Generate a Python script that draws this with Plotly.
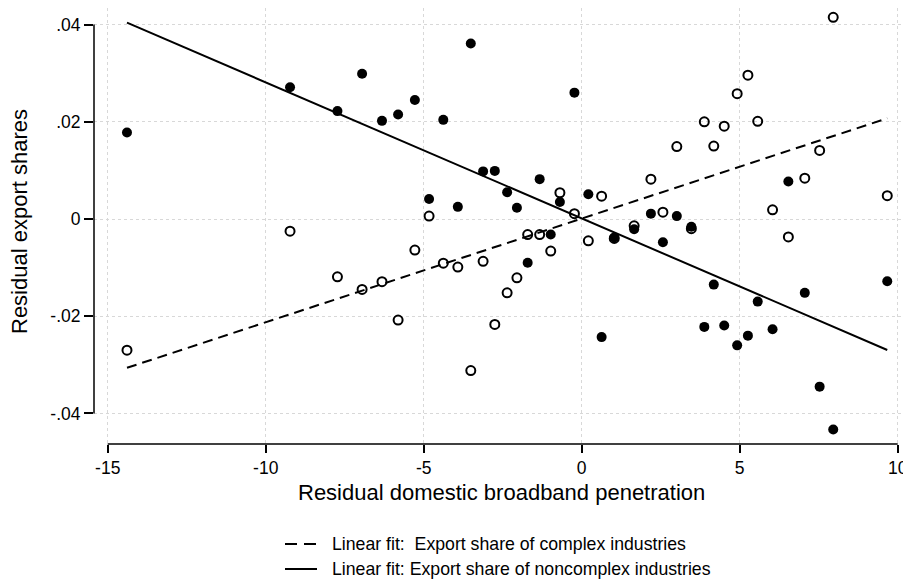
import numpy as np
import plotly.graph_objects as go

# Residual domestic broadband penetration (one value per country)
broadband = [-14.39, -9.23, -7.73, -6.95, -6.32, -5.81, -5.28, -4.83, -4.38, -3.92,
             -3.51, -3.12, -2.75, -2.36, -2.05, -1.71, -1.33, -0.98, -0.69, -0.23,
             0.21, 0.63, 1.03, 1.66, 2.19, 2.57, 3.01, 3.47, 3.88, 4.18,
             4.51, 4.92, 5.26, 5.57, 6.04, 6.54, 7.06, 7.53, 7.96, 9.67]

# Residual export share of noncomplex industries (filled circles)
noncomplex = [0.0178, 0.0271, 0.0222, 0.0299, 0.0202, 0.0215, 0.0245, 0.0041, 0.0204, 0.0025,
              0.0361, 0.0098, 0.0099, 0.0055, 0.0023, -0.0090, 0.0082, -0.0032, 0.0035, 0.0260,
              0.0051, -0.0243, -0.0038, -0.0021, 0.0011, -0.0048, 0.0006, -0.0016, -0.0222, -0.0135,
              -0.0219, -0.0260, -0.0240, -0.0170, -0.0227, 0.0077, -0.0152, -0.0345, -0.0433, -0.0128]

# Residual export share of complex industries (hollow circles)
complex_ = [-0.0270, -0.0025, -0.0119, -0.0145, -0.0129, -0.0208, -0.0064, 0.0006, -0.0091, -0.0099,
            -0.0312, -0.0087, -0.0217, -0.0152, -0.0121, -0.0032, -0.0032, -0.0066, 0.0054, 0.0011,
            -0.0045, 0.0047, -0.0040, -0.0014, 0.0082, 0.0014, 0.0149, -0.0020, 0.0200, 0.0150,
            0.0191, 0.0258, 0.0296, 0.0201, 0.0019, -0.0037, 0.0084, 0.0141, 0.0415, 0.0048]

x_ticks = [-15, -10, -5, 0, 5, 10]
x_ticktext = ["-15", "-10", "-5", "0", "5", "10"]
y_ticks = [-0.04, -0.02, 0, 0.02, 0.04]
y_ticktext = ["-.04", "-.02", "0", ".02", ".04"]

x_title = "Residual domestic broadband penetration"
y_title = "Residual export shares"
legend_labels = ["Linear fit:  Export share of complex industries",
                 "Linear fit: Export share of noncomplex industries"]
legend_dashes = ["12px,7px", "solid"]

FONT = "Liberation Sans, Arial, sans-serif"

# layout geometry (pixels)
W, H = 903, 581
L, R, T, B = 94, 0, 8, 137
PW, PH = W - L - R, H - T - B


def px_x(p):
    return (p - L) / PW


def px_y(p):
    return (H - B - p) / PH


xa = np.array(broadband)
fit_x = np.array([xa.min(), xa.max()])
b_c = np.polyfit(xa, np.array(complex_), 1)
b_n = np.polyfit(xa, np.array(noncomplex), 1)

fig = go.Figure()

fig.add_trace(go.Scatter(x=broadband, y=noncomplex, mode="markers",
                         marker=dict(symbol="circle", size=10, color="black"),
                         showlegend=False, hoverinfo="skip"))
fig.add_trace(go.Scatter(x=broadband, y=complex_, mode="markers",
                         marker=dict(symbol="circle-open", size=9, color="black",
                                     line=dict(width=2, color="black")),
                         showlegend=False, hoverinfo="skip"))
fig.add_trace(go.Scatter(x=fit_x, y=np.polyval(b_c, fit_x), mode="lines",
                         line=dict(color="black", width=2, dash="10px,6px"),
                         name=legend_labels[0], showlegend=False))
fig.add_trace(go.Scatter(x=fit_x, y=np.polyval(b_n, fit_x), mode="lines",
                         line=dict(color="black", width=2),
                         name=legend_labels[1], showlegend=False))

# axis lines spanning only the labelled range (Stata style)
fig.add_shape(type="line", xref="x", yref="paper", x0=-15, x1=10, y0=0, y1=0,
              line=dict(color="black", width=1.5))
fig.add_shape(type="line", xref="paper", yref="y", x0=0, x1=0, y0=-0.04, y1=0.04,
              line=dict(color="black", width=1.5))

fig.add_annotation(text=y_title, xref="paper", yref="paper", x=px_x(19), y=px_y(222),
                   textangle=-90, showarrow=False, xanchor="center", yanchor="middle",
                   font=dict(family=FONT, size=22, color="black"))
fig.add_annotation(text=x_title, xref="paper", yref="paper", x=px_x(502), y=px_y(492),
                   showarrow=False, xanchor="center", yanchor="middle",
                   font=dict(family=FONT, size=22, color="black"))

# legend (key lines + labels)
for i, (lab, dash) in enumerate(zip(legend_labels, legend_dashes)):
    row_y = px_y(544 + 25 * i)
    fig.add_shape(type="line", xref="paper", yref="paper",
                  x0=px_x(285), x1=px_x(317), y0=row_y, y1=row_y,
                  line=dict(color="black", width=2, dash=dash))
    fig.add_annotation(text=lab, xref="paper", yref="paper", x=px_x(330), y=row_y,
                       showarrow=False, xanchor="left", yanchor="middle",
                       font=dict(family=FONT, size=17.7, color="black"))

fig.update_layout(
    template="none",
    width=W, height=H,
    margin=dict(l=L, r=R, t=T, b=B, pad=0, autoexpand=False),
    paper_bgcolor="white", plot_bgcolor="white",
    font=dict(family=FONT, color="black"),
    showlegend=False,
    xaxis=dict(range=[-15.434, 10.168], tickvals=x_ticks, ticktext=x_ticktext,
               ticks="outside", ticklen=8, tickwidth=1.5, tickcolor="black",
               showline=False, zeroline=False, automargin=False,
               ticklabeloverflow="allow",
               showgrid=True, gridcolor="#d8d8d8", gridwidth=1, griddash="dot",
               tickfont=dict(family=FONT, size=17.5, color="black")),
    yaxis=dict(range=[-0.0463, 0.04342], tickvals=y_ticks, ticktext=y_ticktext,
               ticks="outside", ticklen=9, tickwidth=1.5, tickcolor="black",
               showline=False, zeroline=False, automargin=False,
               showgrid=True, gridcolor="#d8d8d8", gridwidth=1, griddash="dot",
               tickfont=dict(family=FONT, size=17.5, color="black")),
)

# remove the browser's default 8px page margin so the figure sits at (0, 0)
fig.write_html("out.html",
               config={"displayModeBar": False},
               post_script="document.body.style.margin='0';document.body.style.overflow='hidden';")
